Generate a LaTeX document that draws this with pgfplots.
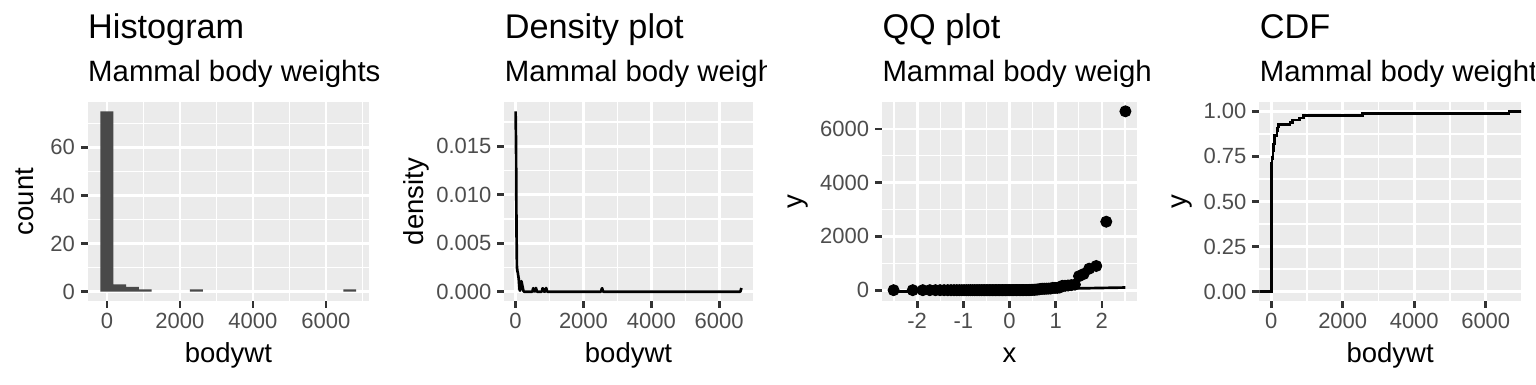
\documentclass[border=0pt]{standalone}
\usepackage{fontspec}
\setmainfont{Liberation Sans}
\usepackage{pgfplots}
\pgfplotsset{compat=1.18}
\definecolor{gray92}{HTML}{EBEBEB}
\definecolor{barfill}{HTML}{494949}
\definecolor{gray30}{HTML}{4D4D4D}
\definecolor{gray20}{HTML}{333333}
\pgfplotsset{gg/.style={
  scale only axis, height=79.36pt, anchor=south west,
  axis background/.style={fill=gray92},
  grid=both,
  major grid style={white, line width=1.07pt},
  minor grid style={white, line width=0.53pt},
  axis line style={draw=none},
  tick pos=left, tick align=outside,
  major tick length=2.75pt, minor tick length=0pt,
  tick style={gray20, line width=1.07pt},
  scaled ticks=false,
  /pgf/number format/assume math mode=true,
  ticklabel style={font=\fontsize{8.8}{10}\selectfont, text=gray30, inner sep=0pt},
  xticklabel style={anchor=north, yshift=-2.2pt},
  yticklabel style={anchor=east, xshift=-2.2pt},
}}
\newcommand{\ttl}{\fontsize{13.7}{16}\selectfont}
\newcommand{\sub}{\fontsize{11.75}{14}\selectfont}
\newcommand{\axt}{\fontsize{11}{13}\selectfont}
\begin{document}
\begin{tikzpicture}
\useasboundingbox (0,0) rectangle (614.4pt,153.6pt);
% ---------- Histogram ----------
\begin{axis}[gg, at={(35.08pt,33.32pt)}, width=112.52pt,
  xmin=-525.3, xmax=7179.3, ymin=-3.75, ymax=78.75,
  xtick={0,2000,4000,6000}, xticklabels={0,2000,4000,6000},
  minor xtick={1000,3000,5000,7000},
  ytick={0,20,40,60}, yticklabels={0,20,40,60},
  minor ytick={10,30,50,70}]
\addplot[ybar, bar width=350.21, fill=barfill, draw=none] coordinates {
(0.005,75) (350.215,3) (700.426,2) (1050.637,1) (2451.48,1) (6654,1)};
\end{axis}
% ---------- Density ----------
\begin{axis}[gg, at={(201.72pt,33.32pt)}, width=99.36pt,
  xmin=-332.7, xmax=6986.7, ymin=-0.00093, ymax=0.01953,
  xtick={0,2000,4000,6000}, xticklabels={0,2000,4000,6000},
  minor xtick={1000,3000,5000},
  ytick={0,0.005,0.01,0.015}, yticklabels={0.000,0.005,0.010,0.015},
  minor ytick={0.0025,0.0075,0.0125,0.0175}]
\addplot[black, line width=1.07pt, line join=round] coordinates {
(0.005,0.01860) (13.02,0.01509) (26.05,0.00654) (39.07,0.00253) (52.09,0.00216)
(65.11,0.00197) (78.13,0.00163) (91.16,0.00138) (104.18,0.00078) (117.2,0.00023)
(130.2,0.00010) (143.2,0.00033) (156.3,0.00080) (169.3,0.00109) (182.3,0.00091)
(195.3,0.00067) (208.3,0.00047) (221.4,0.00023) (234.4,0.00006) (247.4,0.00001)
(260.4,0) (494.8,0) (507.8,0.00022) (520.9,0.00036) (533.9,0.00022) (546.9,0.00005)
(559.9,0) (573.0,0.00004) (586.0,0.00021) (599.0,0.00038) (612.0,0.00024)
(625.0,0.00005) (638.0,0) (768.3,0) (781.3,0.00013) (794.3,0.00034) (807.3,0.00032)
(820.4,0.00010) (833.4,0.00001) (872.5,0) (885.5,0.00019) (898.5,0.00038)
(911.5,0.00025) (924.5,0.00006) (937.6,0) (2513.1,0) (2526.2,0.00010)
(2539.2,0.00031) (2552.2,0.00035) (2565.2,0.00013) (2578.2,0.00002) (2591.3,0)
(6615,0) (6628,0.00005) (6641,0.00022) (6654,0.00038)};
\end{axis}
% ---------- QQ ----------
\begin{axis}[gg, at={(352.8pt,33.32pt)}, width=102pt,
  xmin=-2.762, xmax=2.762, ymin=-391.95, ymax=6989.5,
  xtick={-2,-1,0,1,2}, xticklabels={-2,-1,0,1,2},
  minor xtick={-2.5,-1.5,-0.5,0.5,1.5,2.5},
  ytick={0,2000,4000,6000}, yticklabels={0,2000,4000,6000},
  minor ytick={1000,3000,5000}]
\addplot[only marks, mark=*, mark size=2.2pt, black] coordinates {
(-2.511,0.005) (-2.096,0.01) (-1.879,0.019) (-1.726,0.021) (-1.605,0.022)
(-1.505,0.023) (-1.417,0.028) (-1.338,0.035) (-1.268,0.044) (-1.203,0.045)
(-1.143,0.048) (-1.087,0.053) (-1.034,0.06) (-0.984,0.071) (-0.936,0.075)
(-0.890,0.101) (-0.846,0.104) (-0.803,0.112) (-0.762,0.12) (-0.723,0.122)
(-0.684,0.148) (-0.646,0.2) (-0.610,0.205) (-0.573,0.21) (-0.538,0.266)
(-0.504,0.32) (-0.470,0.37) (-0.437,0.42) (-0.404,0.48) (-0.371,0.55)
(-0.339,0.728) (-0.307,0.743) (-0.276,0.77) (-0.244,0.9) (-0.213,0.92)
(-0.182,1) (-0.152,1.1) (-0.121,1.1) (-0.091,1.35) (-0.060,1.4)
(-0.030,1.62) (0,1.67) (0.030,1.7) (0.060,2) (0.091,2.5)
(0.121,2.625) (0.152,2.95) (0.182,3.3) (0.213,3.38) (0.244,3.5)
(0.276,3.6) (0.307,3.85) (0.339,4.23) (0.371,4.5) (0.404,4.75)
(0.437,6.8) (0.470,10) (0.504,14) (0.538,14.8) (0.573,20.49)
(0.610,25.235) (0.646,33.5) (0.684,50) (0.723,52.2) (0.762,53.18)
(0.803,55.5) (0.846,60) (0.890,62) (0.936,85) (0.984,86)
(1.034,86.25) (1.087,100) (1.143,161.499) (1.203,162.564) (1.268,173.33)
(1.338,187) (1.417,207.501) (1.505,521) (1.605,600) (1.726,800)
(1.879,899.995) (2.096,2547) (2.511,6654)};
\addplot[black, line width=1.07pt] coordinates {(-2.511,-56.43) (2.511,98.35)};
\end{axis}
% ---------- ECDF ----------
\begin{axis}[gg, at={(503.72pt,33.32pt)}, width=104.68pt,
  xmin=-332.7, xmax=6986.7, ymin=-0.05, ymax=1.05,
  xtick={0,2000,4000,6000}, xticklabels={0,2000,4000,6000},
  minor xtick={1000,3000,5000},
  ytick={0,0.25,0.5,0.75,1}, yticklabels={0.00,0.25,0.50,0.75,1.00},
  minor ytick={0.125,0.375,0.625,0.875}]
\addplot[const plot, black, line width=1.07pt] coordinates {
(-500,0) (0.005,0.01205) (0.01,0.02410) (0.019,0.03614) (0.021,0.04819)
(0.022,0.06024) (0.023,0.07229) (0.028,0.08434) (0.035,0.09639) (0.044,0.10843)
(0.045,0.12048) (0.048,0.13253) (0.053,0.14458) (0.06,0.15663) (0.071,0.16867)
(0.075,0.18072) (0.101,0.19277) (0.104,0.20482) (0.112,0.21687) (0.12,0.22892)
(0.122,0.24096) (0.148,0.25301) (0.2,0.26506) (0.205,0.27711) (0.21,0.28916)
(0.266,0.30120) (0.32,0.31325) (0.37,0.32530) (0.42,0.33735) (0.48,0.34940)
(0.55,0.36145) (0.728,0.37349) (0.743,0.38554) (0.77,0.39759) (0.9,0.40964)
(0.92,0.42169) (1,0.43373) (1.1,0.45783) (1.35,0.46988) (1.4,0.48193)
(1.62,0.49398) (1.67,0.50602) (1.7,0.51807) (2,0.53012) (2.5,0.54217)
(2.625,0.55422) (2.95,0.56627) (3.3,0.57831) (3.38,0.59036) (3.5,0.60241)
(3.6,0.61446) (3.85,0.62651) (4.23,0.63855) (4.5,0.65060) (4.75,0.66265)
(6.8,0.67470) (10,0.68675) (14,0.69880) (14.8,0.71084) (20.49,0.72289)
(25.235,0.73494) (33.5,0.74699) (50,0.75904) (52.2,0.77108) (53.18,0.78313)
(55.5,0.79518) (60,0.80723) (62,0.81928) (85,0.83133) (86,0.84337)
(86.25,0.85542) (100,0.86747) (161.499,0.87952) (162.564,0.89157) (173.33,0.90361)
(187,0.91566) (207.501,0.92771) (521,0.93976) (600,0.95181) (800,0.96386)
(899.995,0.97590) (2547,0.98795) (6654,1) (7300,1)};
\end{axis}
% ---------- Titles ----------
\node[anchor=base west, inner sep=0pt] at (35.08pt,138.28pt) {\ttl Histogram};
\node[anchor=base west, inner sep=0pt] at (35.08pt,121.2pt) {\sub Mammal body weights};
\node[anchor=base west, inner sep=0pt] at (201.72pt,138.28pt) {\ttl Density plot};
\begin{scope}
\clip (160pt,110pt) rectangle (306.6pt,140pt);
\node[anchor=base west, inner sep=0pt] at (201.72pt,121.2pt) {\sub Mammal body weights};
\end{scope}
\node[anchor=base west, inner sep=0pt] at (352.8pt,138.28pt) {\ttl QQ plot};
\begin{scope}
\clip (320pt,110pt) rectangle (460.6pt,140pt);
\node[anchor=base west, inner sep=0pt] at (352.8pt,121.2pt) {\sub Mammal body weights};
\end{scope}
\node[anchor=base west, inner sep=0pt] at (503.72pt,138.28pt) {\ttl CDF};
\begin{scope}
\clip (470pt,110pt) rectangle (613.6pt,140pt);
\node[anchor=base west, inner sep=0pt] at (503.72pt,121.2pt) {\sub Mammal body weights};
\end{scope}
% ---------- Axis titles ----------
\node[anchor=base, inner sep=0pt] at (91.34pt,8.8pt) {\axt bodywt};
\node[anchor=base, inner sep=0pt] at (251.4pt,8.8pt) {\axt bodywt};
\node[anchor=base, inner sep=0pt] at (403.8pt,8.8pt) {\axt x};
\node[anchor=base, inner sep=0pt] at (556.06pt,8.8pt) {\axt bodywt};
\node[anchor=base, inner sep=0pt, rotate=90] at (13.32pt,73pt) {\axt count};
\node[anchor=base, inner sep=0pt, rotate=90] at (169.32pt,73pt) {\axt density};
\node[anchor=base, inner sep=0pt, rotate=90] at (321.08pt,73pt) {\axt y};
\node[anchor=base, inner sep=0pt, rotate=90] at (474.4pt,73pt) {\axt y};
\end{tikzpicture}
\end{document}
